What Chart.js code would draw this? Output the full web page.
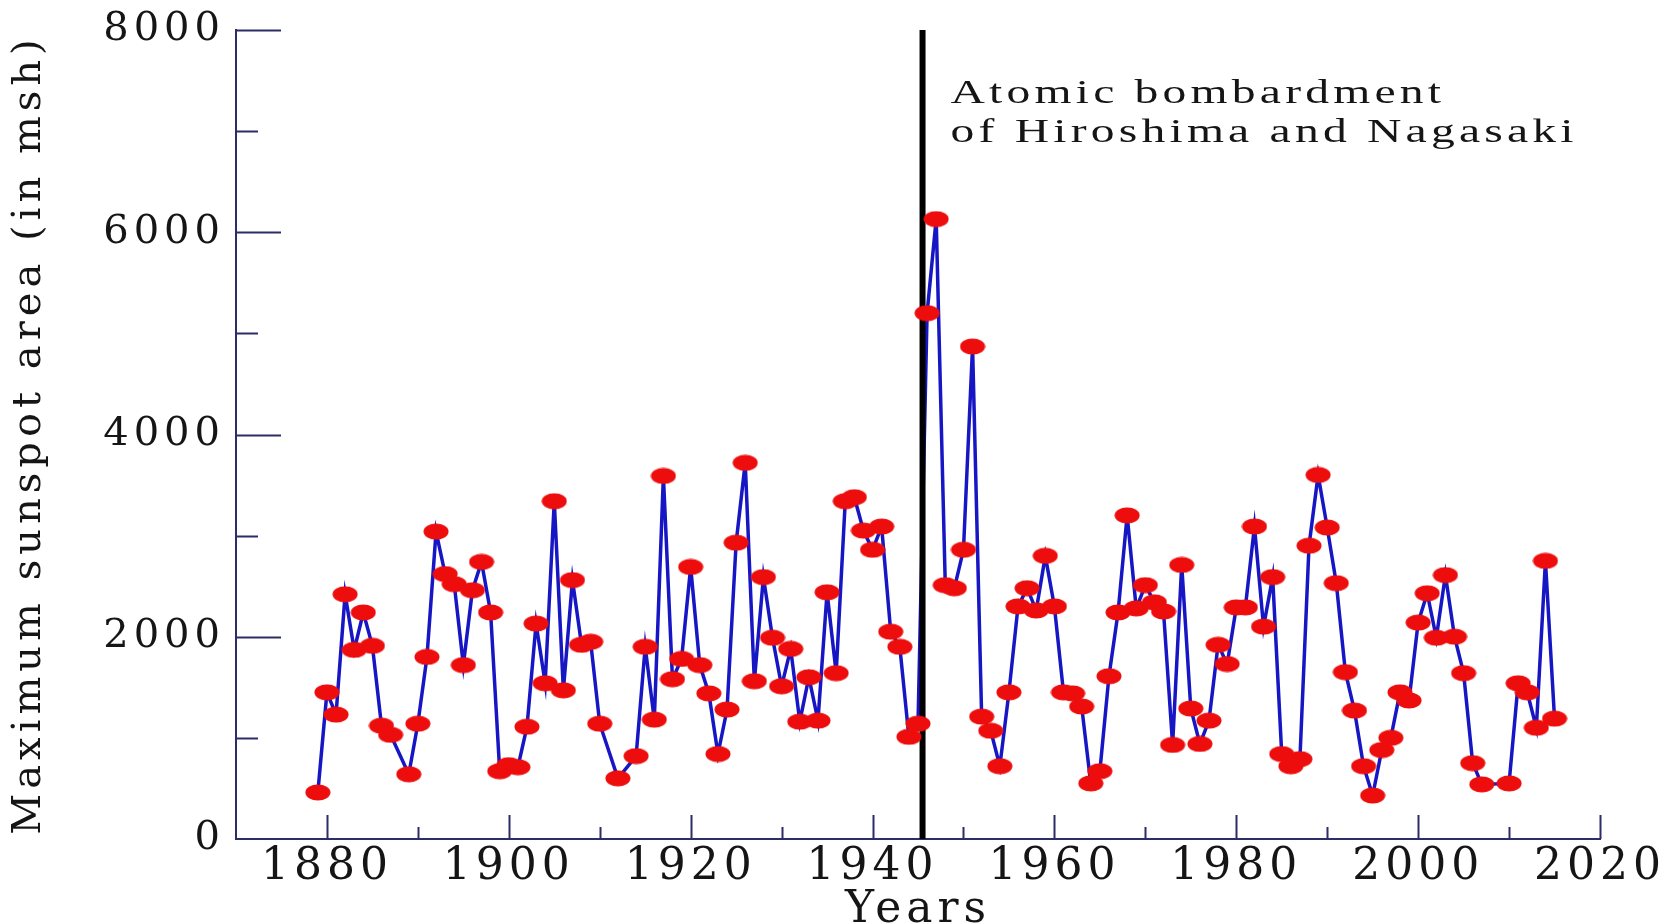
<!DOCTYPE html>
<html>
<head>
<meta charset="utf-8">
<title>Maximum sunspot area, 1879–2015</title>
<script src="https://cdn.jsdelivr.net/npm/chart.js@4.4.1/dist/chart.umd.min.js"></script>
<style>
  html, body { margin: 0; padding: 0; background: #ffffff; }
  #wrap { position: relative; width: 1673px; height: 924px; }
</style>
</head>
<body>
<div id="wrap"><canvas id="chart"></canvas></div>
<script>
// Yearly maximum sunspot area (millionths of a solar hemisphere)
const years = [
  1879, 1880, 1881, 1882, 1883, 1884, 1885, 1886, 1887, 1889,
  1890, 1891, 1892, 1893, 1894, 1895, 1896, 1897, 1898, 1899,
  1900, 1901, 1902, 1903, 1904, 1905, 1906, 1907, 1908, 1909,
  1910, 1912, 1914, 1915, 1916, 1917, 1918, 1919,
  1920, 1921, 1922, 1923, 1924, 1925, 1926, 1927, 1928, 1929,
  1930, 1931, 1932, 1933, 1934, 1935, 1936, 1937, 1938, 1939,
  1940, 1941, 1942, 1943, 1944, 1945, 1946, 1947, 1948, 1949,
  1950, 1951, 1952, 1953, 1954, 1955, 1956, 1957, 1958, 1959,
  1960, 1961, 1962, 1963, 1964, 1965, 1966, 1967, 1968, 1969,
  1970, 1971, 1972, 1973, 1974, 1975, 1976, 1977, 1978, 1979,
  1980, 1981, 1982, 1983, 1984, 1985, 1986, 1987, 1988, 1989,
  1990, 1991, 1992, 1993, 1994, 1995, 1996, 1997, 1998, 1999,
  2000, 2001, 2002, 2003, 2004, 2005, 2006, 2007,
  2010, 2011, 2012, 2013, 2014, 2015
];
const maxSpotArea = [
   460, 1450, 1230, 2420, 1870, 2240, 1910, 1120, 1030,  640,
  1140, 1800, 3040, 2620, 2520, 1720, 2460, 2740, 2240,  670,
   730,  710, 1110, 2130, 1540, 3340, 1470, 2560, 1920, 1950,
  1140,  600,  820, 1900, 1180, 3590, 1580, 1780,
  2690, 1720, 1440,  840, 1280, 2930, 3720, 1560, 2590, 1990,
  1510, 1880, 1160, 1600, 1170, 2440, 1640, 3340, 3380, 3050,
  2860, 3090, 2050, 1900, 1010, 1140, 5200, 6130, 2510, 2480,
  2860, 4870, 1210, 1070,  720, 1450, 2300, 2480, 2260, 2800,
  2300, 1450, 1440, 1310,  550,  670, 1610, 2240, 3200, 2280,
  2510, 2340, 2250,  930, 2710, 1290,  940, 1170, 1920, 1730,
  2290, 2290, 3090, 2100, 2590,  840,  720,  790, 2900, 3600,
  3080, 2530, 1650, 1270,  720,  430,  880, 1000, 1450, 1370,
  2140, 2430, 1990, 2610, 2000, 1640,  750,  540,
   550, 1540, 1450, 1100, 2750, 1190
];

// Axis ranges and labelled ticks
const yearRange = [1870, 2020];
const yearLabels = [1880, 1900, 1920, 1940, 1960, 1980, 2000, 2020];
const areaRange = [0, 8000];
const areaLabels = [0, 2000, 4000, 6000, 8000];

// Event marker
const eventYear = 1945.5;
const eventText = ['Atomic bombardment', 'of Hiroshima and Nagasaki'];

const AXIS = '#2c2c66';
const TEXT = '#151515';
const SERIF = '"DejaVu Serif", "Liberation Serif", serif';

// Red elliptical marker
const dot = document.createElement('canvas');
dot.width = 26; dot.height = 17;
(function () {
  const c = dot.getContext('2d');
  c.fillStyle = '#ee0d0d';
  c.beginPath();
  c.ellipse(13, 8.5, 12.5, 8, 0, 0, Math.PI * 2);
  c.fill();
})();

const points = years.map((yr, i) => ({ x: yr, y: maxSpotArea[i] }));

// Wide tracking for all axis text
const wideText = {
  id: 'wideText',
  beforeDraw(chart) {
    if ('letterSpacing' in chart.ctx) chart.ctx.letterSpacing = '5px';
  }
};

// Inward-pointing tick marks on both axes
const innerTicks = {
  id: 'innerTicks',
  beforeDatasetsDraw(chart) {
    const { ctx, chartArea, scales: { x, y } } = chart;
    ctx.save();
    ctx.strokeStyle = AXIS;
    ctx.lineWidth = 2;
    ctx.beginPath();
    x.ticks.forEach(t => {
      if (t.value <= x.min) return;
      const px = Math.round(x.getPixelForValue(t.value)) + 0.5;
      const len = yearLabels.includes(t.value) ? 24 : 12;
      ctx.moveTo(px, chartArea.bottom);
      ctx.lineTo(px, chartArea.bottom - len);
    });
    y.ticks.forEach(t => {
      if (t.value <= y.min) return;
      const py = Math.round(y.getPixelForValue(t.value)) + 0.5;
      const len = areaLabels.includes(t.value) ? 45 : 22;
      ctx.moveTo(chartArea.left, py);
      ctx.lineTo(chartArea.left + len, py);
    });
    ctx.stroke();
    ctx.restore();
  }
};

// Caption next to the event line
const eventCaption = {
  id: 'eventCaption',
  afterDatasetsDraw(chart) {
    const { ctx, chartArea, scales: { x } } = chart;
    const px = x.getPixelForValue(eventYear) + 28;
    ctx.save();
    ctx.fillStyle = TEXT;
    ctx.font = '34px "Liberation Serif", serif';
    ctx.textBaseline = 'alphabetic';
    ctx.textAlign = 'left';
    if ('letterSpacing' in ctx) ctx.letterSpacing = '3px';
    ctx.translate(px, 0);
    ctx.scale(1.4, 1);
    eventText.forEach((line, i) => {
      ctx.fillText(line, 0, chartArea.top + 73 + i * 39);
    });
    ctx.restore();
  }
};

new Chart(document.getElementById('chart'), {
  type: 'line',
  data: {
    datasets: [
      {
        label: 'markers',
        data: points,
        showLine: false,
        pointStyle: dot,
        pointRadius: 8,
        pointHoverRadius: 8,
        order: 1
      },
      {
        label: 'event',
        data: [{ x: eventYear, y: areaRange[0] }, { x: eventYear, y: areaRange[1] }],
        borderColor: '#000000',
        borderWidth: 6,
        borderCapStyle: 'butt',
        pointRadius: 0,
        order: 2
      },
      {
        label: 'Maximum sunspot area',
        data: points,
        borderColor: '#1616c4',
        borderWidth: 3.5,
        pointRadius: 0,
        tension: 0,
        order: 3
      }
    ]
  },
  options: {
    responsive: true,
    maintainAspectRatio: false,
    animation: false,
    events: [],
    layout: { padding: { left: 0, right: 73, top: 30, bottom: 0 } },
    plugins: { legend: { display: false }, tooltip: { enabled: false } },
    scales: {
      x: {
        type: 'linear',
        min: yearRange[0],
        max: yearRange[1],
        grid: { display: false, drawTicks: false },
        border: { display: true, color: AXIS, width: 2 },
        ticks: {
          stepSize: 10,
          autoSkip: false,
          maxRotation: 0,
          padding: 2,
          color: TEXT,
          font: { family: SERIF, size: 44 },
          callback: v => (yearLabels.includes(v) ? String(v) : '')
        },
        title: {
          display: true,
          text: 'Years',
          color: TEXT,
          font: { family: SERIF, size: 44, lineHeight: 0.6 },
          padding: 0
        },
        afterFit(s) { s.height = 85; }
      },
      y: {
        type: 'linear',
        min: areaRange[0],
        max: areaRange[1],
        grid: { display: false, drawTicks: false },
        border: { display: true, color: AXIS, width: 2 },
        ticks: {
          stepSize: 1000,
          padding: 11,
          color: TEXT,
          font: { family: SERIF, size: 40, lineHeight: 0.9 },
          callback: v => (areaLabels.includes(v) ? String(v) : '')
        },
        title: {
          display: true,
          text: 'Maximum sunspot area (in msh)',
          color: TEXT,
          font: { family: SERIF, size: 40, lineHeight: 1.2 },
          padding: { top: 6, bottom: 0 }
        },
        afterFit(s) { s.width = 236; }
      }
    }
  },
  plugins: [wideText, innerTicks, eventCaption]
});
</script>
</body>
</html>
